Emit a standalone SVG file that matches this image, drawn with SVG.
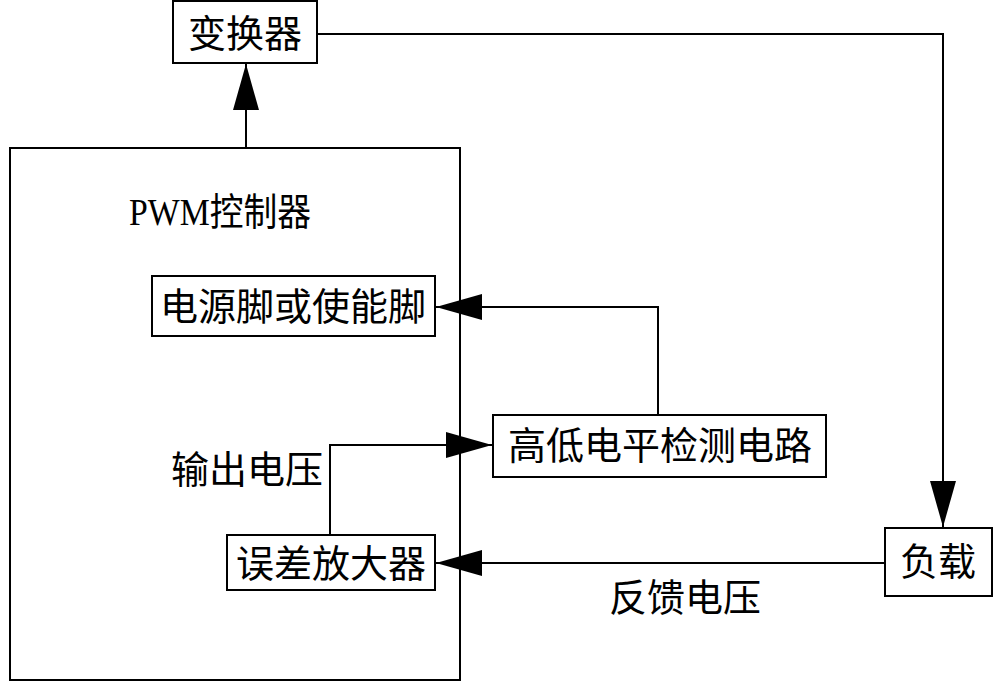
<svg xmlns="http://www.w3.org/2000/svg" width="1000" height="689" viewBox="0 0 1000 689">
<style>
.box{fill:#fff;stroke:#000;stroke-width:2}
.ln{fill:none;stroke:#000;stroke-width:2}
.t{font-family:"Liberation Serif","Noto Sans CJK SC",serif;font-size:38px;fill:#000;text-anchor:middle;dominant-baseline:central}
</style>
<defs>
<marker id="ah" viewBox="0 0 46 26" refX="46" refY="13" markerWidth="46" markerHeight="26" markerUnits="userSpaceOnUse" orient="auto">
<path d="M0,0 L46,13 L0,26 Z" fill="#000"/>
</marker>
</defs>
<rect width="1000" height="689" fill="#fff"/>
<g id="pwm">
<rect class="box" x="10" y="148" width="450" height="532"/>
<text class="t" x="220" y="212" textLength="182" lengthAdjust="spacingAndGlyphs">PWM控制器</text>
</g>
<g id="converter">
<rect class="box" x="173" y="1" width="144" height="62"/>
<text class="t" x="245" y="34">变换器</text>
</g>
<g id="power-pin">
<rect class="box" x="152" y="276" width="283" height="60"/>
<text class="t" x="293" y="307">电源脚或使能脚</text>
</g>
<g id="level-detect">
<rect class="box" x="493" y="415" width="333" height="62"/>
<text class="t" x="660" y="446">高低电平检测电路</text>
</g>
<g id="error-amp">
<rect class="box" x="227" y="535" width="208" height="55"/>
<text class="t" x="331" y="564">误差放大器</text>
</g>
<g id="load">
<rect class="box" x="885" y="528" width="107" height="68"/>
<text class="t" x="938" y="562">负载</text>
</g>
<g id="labels">
<text class="t" x="247" y="470">输出电压</text>
<text class="t" x="685" y="598">反馈电压</text>
</g>
<g id="connectors">
<line class="ln" x1="246" y1="148" x2="246" y2="64" marker-end="url(#ah)"/>
<polyline class="ln" points="317,34 943,34 943,527" marker-end="url(#ah)"/>
<polyline class="ln" points="658,415 658,307 436,307" marker-end="url(#ah)"/>
<polyline class="ln" points="330,535 330,445 492,445" marker-end="url(#ah)"/>
<line class="ln" x1="885" y1="563" x2="436" y2="563" marker-end="url(#ah)"/>
</g>
</svg>
